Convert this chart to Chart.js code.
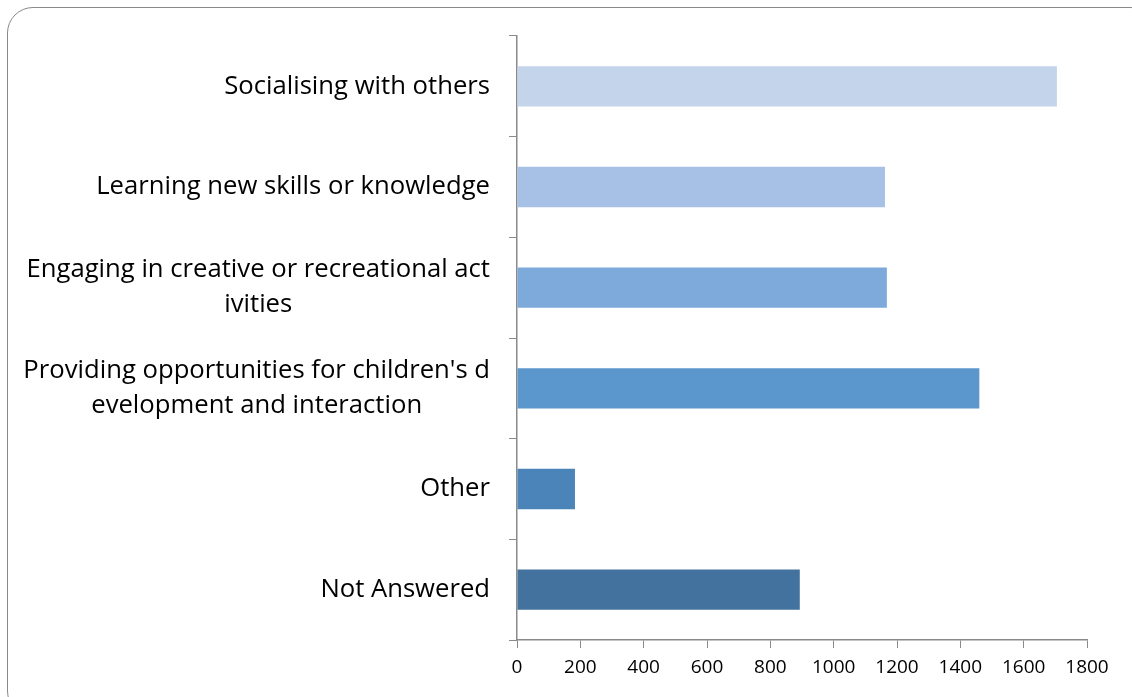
<!DOCTYPE html>
<html lang="en">
<head>
  <meta charset="UTF-8" />
  <title>Reasons for attending</title>
  <script src="https://cdn.jsdelivr.net/npm/chart.js"></script>
  <style>
    html, body {
      margin: 0;
      padding: 0;
      background: #ffffff;
      overflow: hidden;
    }

    .frame {
      position: absolute;
      left: 7px;
      top: 7px;
      width: 1150px;
      height: 710px;
      border: 1.5px solid #8a8a8a;
      border-radius: 26px;
      box-sizing: border-box;
    }

    .wrap {
      position: absolute;
      left: 0;
      top: 0;
      width: 1132px;
      height: 697px;
    }
  </style>
</head>
<body>

<div class="frame"></div>
<div class="wrap">
  <canvas id="barChart" width="1132" height="697"></canvas>
</div>

<script>
  const categories = [
    ['Socialising with others'],
    ['Learning new skills or knowledge'],
    ['Engaging in creative or recreational act', 'ivities'],
    ["Providing opportunities for children's d", 'evelopment and interaction'],
    ['Other'],
    ['Not Answered']
  ];
  const responses = [1705, 1162, 1168, 1460, 183, 893];
  const barColors = ['#c4d5eb', '#a6c1e5', '#7eaadb', '#5b96cd', '#4a84b8', '#43729e'];
  const xTicks = [0, 200, 400, 600, 800, 1000, 1200, 1400, 1600, 1800];

  const labelFamily = '"Open Sans", sans-serif';

  // category labels: block right-aligned, each line centred inside the block
  const categoryLabels = {
    id: 'categoryLabels',
    afterDraw(chart) {
      const ctx = chart.ctx;
      const yScale = chart.scales.y;
      const right = yScale.right - 27;
      const lineH = 35;
      ctx.save();
      // size the font so the first label is as wide as in the original
      ctx.font = '24px ' + labelFamily;
      const size = 24 * 266 / ctx.measureText(categories[0][0]).width;
      ctx.font = size.toFixed(2) + 'px ' + labelFamily;
      ctx.fillStyle = '#000000';
      ctx.textAlign = 'center';
      ctx.textBaseline = 'middle';
      categories.forEach((lines, i) => {
        const yc = yScale.getPixelForTick(i);
        const w = Math.max(...lines.map(l => ctx.measureText(l).width));
        const xc = right - w / 2;
        const y0 = yc - (lines.length - 1) * lineH / 2;
        lines.forEach((l, j) => ctx.fillText(l, xc, y0 + j * lineH));
      });
      ctx.restore();
    }
  };

  const ctx = document.getElementById('barChart').getContext('2d');
  const chart = new Chart(ctx, {
    type: 'bar',
    data: {
      labels: categories.map(c => c.join('')),
      datasets: [{
        data: responses,
        backgroundColor: barColors,
        borderWidth: 0,
        barPercentage: 0.4,
        categoryPercentage: 1
      }]
    },
    options: {
      indexAxis: 'y',
      responsive: false,
      animation: false,
      layout: {
        padding: { top: 36, right: 45, bottom: 0, left: 0 }
      },
      plugins: {
        legend: { display: false },
        tooltip: { enabled: false }
      },
      scales: {
        x: {
          min: 0,
          max: 1800,
          afterBuildTicks(scale) {
            scale.ticks = xTicks.map(v => ({ value: v }));
          },
          afterFit(scale) {
            scale.height = 57;
          },
          grid: {
            drawOnChartArea: false,
            color: '#8a8a8a',
            tickLength: 8
          },
          border: { color: '#8a8a8a', width: 1.5 },
          ticks: {
            color: '#000000',
            font: { family: 'Open Sans', size: 19 },
            padding: 8,
            maxRotation: 0,
            callback: v => String(v)
          }
        },
        y: {
          afterFit(scale) {
            scale.width = 517;
          },
          grid: {
            drawOnChartArea: false,
            color: '#8a8a8a',
            tickLength: 8,
            offset: true
          },
          border: { color: '#8a8a8a', width: 1.5 },
          ticks: { display: false }
        }
      }
    },
    plugins: [categoryLabels]
  });
</script>

</body>
</html>
